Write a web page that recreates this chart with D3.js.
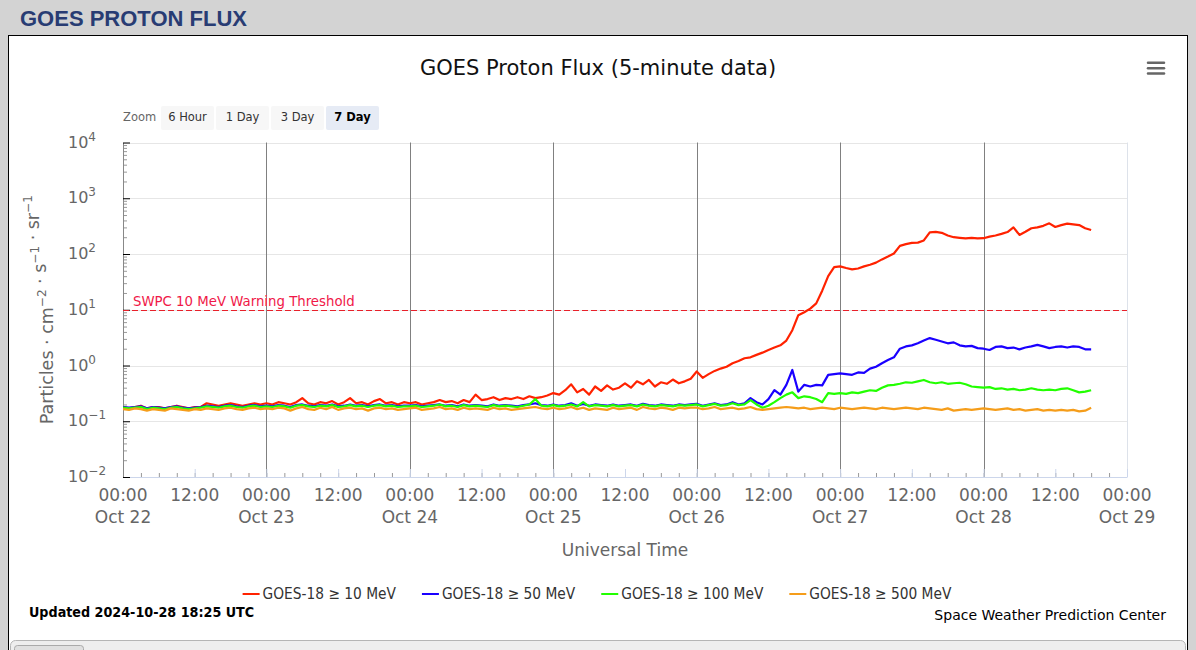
<!DOCTYPE html>
<html>
<head>
<meta charset="utf-8">
<script src="https://cdn.jsdelivr.net/npm/d3@7"></script>
<style>
body { margin: 0; background: #d3d3d3; }
svg { display: block; font-family: "DejaVu Sans", sans-serif; }
</style>
</head>
<body>
<svg id="chart" width="1196" height="650"></svg>
<script>
// DATA: GOES-18 integral proton flux, one reading per hour from Oct 22 00:00 UTC
var startTime = Date.UTC(2024, 9, 22, 0, 0);
var endTime = Date.UTC(2024, 9, 29, 0, 0);
var stepHours = 1;

var flux10 = [
  0.18, 0.17, 0.18, 0.19, 0.17, 0.18, 0.18, 0.17, 0.18, 0.19, 0.18, 0.17,
  0.18, 0.18, 0.21, 0.20, 0.19, 0.20, 0.21, 0.20, 0.19, 0.20, 0.21, 0.20,
  0.21, 0.20, 0.22, 0.21, 0.20, 0.22, 0.26, 0.21, 0.20, 0.22, 0.21, 0.23,
  0.20, 0.22, 0.26, 0.21, 0.22, 0.20, 0.23, 0.25, 0.21, 0.22, 0.20, 0.22,
  0.21, 0.22, 0.20, 0.21, 0.22, 0.24, 0.22, 0.23, 0.21, 0.24, 0.22, 0.30,
  0.24, 0.25, 0.27, 0.24, 0.26, 0.25, 0.27, 0.25, 0.28, 0.26, 0.27, 0.29,
  0.32, 0.30, 0.36, 0.46, 0.33, 0.38, 0.30, 0.42, 0.35, 0.44, 0.37, 0.40,
  0.48, 0.40, 0.52, 0.46, 0.55, 0.42, 0.50, 0.47, 0.56, 0.48, 0.52, 0.58,
  0.78, 0.60, 0.70, 0.80, 0.88, 0.95, 1.10, 1.20, 1.35, 1.40, 1.55, 1.70,
  1.90, 2.10, 2.30, 2.80, 4.30, 8.0, 9.0, 10.5, 13.0, 22.0, 40.0, 58.0,
  60, 56, 53, 55, 60, 64, 70, 80, 90, 102, 140, 150,
  158, 160, 175, 245, 250, 240, 215, 200, 195, 190, 195, 190,
  192, 205, 215, 230, 248, 300, 220, 250, 290, 300, 320, 355,
  305, 330, 350, 340, 330, 290, 270
];
var flux50 = [
  0.18, 0.175, 0.18, 0.185, 0.17, 0.18, 0.175, 0.17, 0.18, 0.185, 0.175, 0.17,
  0.175, 0.18, 0.19, 0.185, 0.18, 0.19, 0.195, 0.185, 0.18, 0.19, 0.195, 0.185,
  0.19, 0.185, 0.195, 0.19, 0.18, 0.195, 0.2, 0.19, 0.185, 0.195, 0.19, 0.2,
  0.185, 0.19, 0.2, 0.19, 0.195, 0.185, 0.195, 0.2, 0.19, 0.195, 0.185, 0.19,
  0.19, 0.195, 0.185, 0.19, 0.195, 0.2, 0.19, 0.195, 0.185, 0.2, 0.19, 0.195,
  0.19, 0.185, 0.2, 0.19, 0.195, 0.19, 0.185, 0.195, 0.2, 0.21, 0.195, 0.19,
  0.2, 0.19, 0.195, 0.21, 0.19, 0.205, 0.19, 0.2, 0.195, 0.19, 0.2, 0.19,
  0.195, 0.2, 0.19, 0.205, 0.195, 0.19, 0.2, 0.195, 0.19, 0.2, 0.195, 0.2,
  0.205, 0.19, 0.2, 0.21, 0.195, 0.2, 0.22, 0.2, 0.21, 0.26, 0.22, 0.2,
  0.25, 0.36, 0.30, 0.45, 0.83, 0.34, 0.45, 0.42, 0.45, 0.44, 0.68, 0.70,
  0.72, 0.70, 0.68, 0.75, 0.74, 0.88, 0.95, 1.1, 1.25, 1.4, 2.0, 2.2,
  2.3, 2.5, 2.8, 3.1, 2.9, 2.7, 2.5, 2.6, 2.3, 2.2, 2.25, 2.05,
  2.0, 1.9, 2.15, 2.2, 2.05, 2.1, 1.95, 2.1, 2.2, 2.35, 2.2, 2.05,
  2.15, 2.2, 2.1, 2.2, 2.15, 1.95, 1.95
];
var flux100 = [
  0.175, 0.17, 0.175, 0.18, 0.165, 0.175, 0.17, 0.165, 0.175, 0.18, 0.17, 0.165,
  0.17, 0.175, 0.185, 0.18, 0.175, 0.185, 0.19, 0.18, 0.175, 0.185, 0.19, 0.18,
  0.185, 0.18, 0.19, 0.185, 0.175, 0.19, 0.195, 0.185, 0.18, 0.19, 0.185, 0.195,
  0.18, 0.185, 0.195, 0.185, 0.19, 0.18, 0.19, 0.195, 0.185, 0.19, 0.18, 0.185,
  0.185, 0.19, 0.18, 0.185, 0.19, 0.2, 0.185, 0.19, 0.18, 0.195, 0.185, 0.19,
  0.185, 0.18, 0.195, 0.185, 0.19, 0.185, 0.18, 0.19, 0.2, 0.25, 0.19, 0.185,
  0.195, 0.185, 0.19, 0.2, 0.185, 0.22, 0.185, 0.195, 0.19, 0.185, 0.195, 0.185,
  0.19, 0.195, 0.185, 0.2, 0.19, 0.185, 0.195, 0.19, 0.185, 0.195, 0.19, 0.195,
  0.2, 0.185, 0.195, 0.205, 0.19, 0.195, 0.21, 0.195, 0.2, 0.24, 0.2, 0.175,
  0.19, 0.22, 0.26, 0.30, 0.33, 0.26, 0.28, 0.27, 0.25, 0.22, 0.32, 0.31,
  0.32, 0.31, 0.33, 0.32, 0.34, 0.36, 0.35, 0.40, 0.44, 0.45, 0.47, 0.50,
  0.49, 0.52, 0.55, 0.50, 0.48, 0.50, 0.47, 0.48, 0.49, 0.46, 0.42, 0.41,
  0.40, 0.41, 0.38, 0.39, 0.37, 0.38, 0.36, 0.37, 0.39, 0.37, 0.36, 0.37,
  0.36, 0.38, 0.39, 0.36, 0.33, 0.34, 0.36
];
var flux500 = [
  0.165, 0.16, 0.17, 0.165, 0.155, 0.165, 0.16, 0.155, 0.17, 0.165, 0.16, 0.155,
  0.165, 0.16, 0.17, 0.165, 0.16, 0.17, 0.175, 0.165, 0.16, 0.17, 0.175, 0.165,
  0.17, 0.165, 0.175, 0.17, 0.155, 0.17, 0.18, 0.165, 0.16, 0.175, 0.165, 0.18,
  0.16, 0.17, 0.175, 0.165, 0.17, 0.155, 0.17, 0.175, 0.165, 0.17, 0.16, 0.165,
  0.17, 0.175, 0.16, 0.165, 0.17, 0.18, 0.165, 0.17, 0.16, 0.175, 0.165, 0.17,
  0.165, 0.16, 0.175, 0.165, 0.17, 0.16, 0.165, 0.17, 0.175, 0.18, 0.17, 0.165,
  0.175, 0.165, 0.17, 0.18, 0.165, 0.175, 0.16, 0.17, 0.165, 0.16, 0.175, 0.165,
  0.17, 0.175, 0.16, 0.18, 0.17, 0.165, 0.175, 0.17, 0.16, 0.175, 0.17, 0.175,
  0.175, 0.165, 0.17, 0.18, 0.165, 0.17, 0.175, 0.165, 0.17, 0.18, 0.165, 0.16,
  0.165, 0.17, 0.175, 0.18, 0.175, 0.17, 0.175, 0.165, 0.17, 0.175, 0.17, 0.165,
  0.175, 0.17, 0.165, 0.17, 0.175, 0.17, 0.165, 0.175, 0.17, 0.165, 0.17, 0.175,
  0.17, 0.165, 0.175, 0.17, 0.165, 0.16, 0.17, 0.155, 0.16, 0.165, 0.16, 0.165,
  0.17, 0.165, 0.16, 0.165, 0.17, 0.16, 0.165, 0.155, 0.16, 0.165, 0.155, 0.16,
  0.155, 0.16, 0.155, 0.16, 0.15, 0.155, 0.175
];

var seriesNames = ['GOES-18 \u2265 10 MeV', 'GOES-18 \u2265 50 MeV', 'GOES-18 \u2265 100 MeV', 'GOES-18 \u2265 500 MeV'];
var seriesValues = [flux10, flux50, flux100, flux500];
var yTickExponents = [-2, -1, 0, 1, 2, 3, 4];
var zoomLabels = ['6 Hour', '1 Day', '3 Day', '7 Day'];
var thresholdValue = 10;
var thresholdLabel = 'SWPC 10 MeV Warning Threshold';
var chartTitle = 'GOES Proton Flux (5-minute data)';
var updatedText = 'Updated 2024-10-28 18:25 UTC';
var creditText = 'Space Weather Prediction Center';

// STYLE
var seriesColors = ['#ff2200', '#1a00ff', '#22ff00', '#f59d1a'];

var svg = d3.select('#chart');
var plotL = 123, plotR = 1127, plotT = 142.5, plotB = 477;

// PAGE HEADER AND PANEL
svg.append('text')
    .attr('x', 20)
    .attr('y', 26)
    .style('font-family', '"Liberation Sans", Arial, sans-serif')
    .style('font-weight', 'bold')
    .style('font-size', '22px')
    .style('fill', '#283c73')
    .text('GOES PROTON FLUX');

svg.append('rect')
    .attr('x', 8.5).attr('y', 35.5)
    .attr('width', 1179).attr('height', 640)
    .style('fill', '#fff')
    .style('stroke', '#000');
svg.append('rect')
    .attr('x', 10.5).attr('y', 640.5)
    .attr('width', 1175).attr('height', 30).attr('rx', 5)
    .style('fill', '#eeeeee')
    .style('stroke', '#b5b5b5');
svg.append('rect')
    .attr('x', 14.5).attr('y', 645.5)
    .attr('width', 69).attr('height', 20).attr('rx', 3)
    .style('fill', '#e0e0e0')
    .style('stroke', '#aaaaaa');

// SCALES
var x = d3.scaleUtc()
    .domain([new Date(startTime), new Date(endTime)])
    .range([plotL, plotR]);
var y = d3.scaleLog()
    .domain([1e-2, 1e4])
    .range([plotB, plotT]);

var decades = yTickExponents.map(function(e) { return Math.pow(10, e); });
var minorVals = [];
decades.slice(0, -1).forEach(function(d) {
    for (var k = 2; k <= 9; k++) minorVals.push(d * k);
});

// GRID
svg.append('g').selectAll('line')
    .data(decades.slice(1))
    .enter().append('line')
    .attr('x1', plotL).attr('x2', plotR)
    .attr('y1', function(d) { return Math.round(y(d)) + 0.5; })
    .attr('y2', function(d) { return Math.round(y(d)) + 0.5; })
    .style('stroke', '#e6e6e6');

svg.append('line')
    .attr('x1', plotR + 0.5).attr('x2', plotR + 0.5)
    .attr('y1', plotT).attr('y2', plotB)
    .style('stroke', '#dde2ea');

var dayLines = d3.utcDay.range(new Date(startTime + 864e5), new Date(endTime));
svg.append('g').selectAll('line')
    .data(dayLines)
    .enter().append('line')
    .attr('x1', function(d) { return Math.round(x(d)) + 0.5; })
    .attr('x2', function(d) { return Math.round(x(d)) + 0.5; })
    .attr('y1', plotT).attr('y2', plotB)
    .style('stroke', '#808080');

// X AXIS
var xMinorAxis = svg.append('g')
    .attr('transform', 'translate(0,' + plotB + ')')
    .call(d3.axisBottom(x).ticks(d3.utcHour.every(3)).tickSize(-4).tickSizeOuter(0).tickFormat(''));
xMinorAxis.select('.domain').remove();
xMinorAxis.selectAll('line').style('stroke', '#999');

var xMajorAxis = svg.append('g')
    .attr('transform', 'translate(0,' + plotB + ')')
    .call(d3.axisBottom(x).ticks(d3.utcHour.every(12)).tickSize(-8).tickSizeOuter(0).tickFormat(''));
xMajorAxis.select('.domain').style('stroke', '#ccd6eb');
xMajorAxis.selectAll('line').style('stroke', '#ccd6eb');

var fmtHour = d3.utcFormat('%H:%M');
var fmtDay = d3.utcFormat('%b %-d');
var xTicks = d3.utcHour.every(12).range(new Date(startTime), new Date(endTime + 1));
var xLabels = svg.append('g')
    .style('font-size', '17px')
    .style('fill', '#666')
    .attr('text-anchor', 'middle');
xTicks.forEach(function(t) {
    var tx = x(t);
    xLabels.append('text').attr('x', tx).attr('y', 501).text(fmtHour(t));
    if (t.getUTCHours() === 0) {
        xLabels.append('text').attr('x', tx).attr('y', 523).text(fmtDay(t));
    }
});
svg.append('text')
    .attr('x', (plotL + plotR) / 2)
    .attr('y', 556)
    .attr('text-anchor', 'middle')
    .style('font-size', '17px')
    .style('fill', '#666')
    .text('Universal Time');

// Y AXIS
var yMinorAxis = svg.append('g')
    .attr('transform', 'translate(' + plotL + ',0)')
    .call(d3.axisLeft(y).tickValues(minorVals).tickSize(-4).tickSizeOuter(0).tickFormat(''));
yMinorAxis.select('.domain').remove();
yMinorAxis.selectAll('line').style('stroke', '#999');

var yMajorAxis = svg.append('g')
    .attr('transform', 'translate(' + plotL + ',0)')
    .call(d3.axisLeft(y).tickValues(decades).tickSize(-7).tickSizeOuter(0).tickFormat(''));
yMajorAxis.select('.domain').style('stroke', '#888');
yMajorAxis.selectAll('line').style('stroke', '#000');

var yLabels = svg.append('g').style('fill', '#666');
yTickExponents.forEach(function(e) {
    var t = yLabels.append('text')
        .attr('x', 68)
        .attr('y', y(Math.pow(10, e)) + 5)
        .style('font-size', '16px');
    t.append('tspan').text('10');
    t.append('tspan')
        .attr('dy', -7)
        .style('font-size', '12px')
        .text(e < 0 ? '\u2212' + (-e) : String(e));
});

var yTitle = svg.append('text')
    .attr('transform', 'translate(53,' + ((plotT + plotB) / 2) + ') rotate(-90)')
    .attr('text-anchor', 'middle')
    .style('font-size', '17.5px')
    .style('fill', '#666');
[['Particles \u00b7 cm', '\u22122'], [' \u00b7 s', '\u22121'], [' \u00b7 sr', '\u22121']].forEach(function(p) {
    yTitle.append('tspan').attr('dy', 0).text(p[0]);
    yTitle.append('tspan').attr('dy', -7).style('font-size', '12px').text(p[1]);
    yTitle.append('tspan').attr('dy', 7).text('');
});

// THRESHOLD
svg.append('line')
    .attr('x1', plotL).attr('x2', plotR)
    .attr('y1', Math.round(y(thresholdValue)) + 0.5)
    .attr('y2', Math.round(y(thresholdValue)) + 0.5)
    .style('stroke', '#e8202a')
    .style('stroke-dasharray', '6,3');
svg.append('text')
    .attr('x', 133)
    .attr('y', y(thresholdValue) - 4)
    .style('font-size', '13.3px')
    .style('fill', '#f01848')
    .text(thresholdLabel);

// DATA LINES
svg.append('clipPath').attr('id', 'plotClip')
    .append('rect')
    .attr('x', plotL).attr('y', plotT)
    .attr('width', plotR - plotL).attr('height', plotB - plotT);

var lineGen = d3.line()
    .x(function(d, i) { return x(new Date(startTime + i * stepHours * 36e5)); })
    .y(function(d) { return y(d); });

svg.append('g')
    .attr('clip-path', 'url(#plotClip)')
    .selectAll('path')
    .data(seriesValues)
    .enter().append('path')
    .attr('d', function(d) { return lineGen(d); })
    .style('fill', 'none')
    .style('stroke', function(d, i) { return seriesColors[i]; })
    .style('stroke-width', '2.2px')
    .style('stroke-linejoin', 'round');

// TITLE, ZOOM BUTTONS, MENU
svg.append('text')
    .attr('x', 598)
    .attr('y', 75)
    .attr('text-anchor', 'middle')
    .style('font-size', '21px')
    .style('fill', '#111')
    .text(chartTitle);

svg.append('text')
    .attr('x', 123)
    .attr('y', 121)
    .style('font-size', '11.5px')
    .style('fill', '#666')
    .text('Zoom');

var btn = svg.append('g').selectAll('g')
    .data(zoomLabels)
    .enter().append('g')
    .attr('transform', function(d, i) { return 'translate(' + (161 + i * 55) + ',106)'; });
btn.append('rect')
    .attr('width', 53).attr('height', 24).attr('rx', 2)
    .style('fill', function(d, i) { return i === zoomLabels.length - 1 ? '#e6ebf5' : '#f7f7f7'; });
btn.append('text')
    .attr('x', 26.5).attr('y', 15)
    .attr('text-anchor', 'middle')
    .style('font-size', '11.5px')
    .style('font-weight', function(d, i) { return i === zoomLabels.length - 1 ? 'bold' : 'normal'; })
    .style('fill', function(d, i) { return i === zoomLabels.length - 1 ? '#000' : '#333'; })
    .text(function(d) { return d; });

svg.append('g').selectAll('line')
    .data([62.8, 68.2, 73.6])
    .enter().append('line')
    .attr('x1', 1148).attr('x2', 1164)
    .attr('y1', function(d) { return d; }).attr('y2', function(d) { return d; })
    .style('stroke', '#666')
    .style('stroke-width', 2.5)
    .style('stroke-linecap', 'round');

// LEGEND
var legendGap = 26;
var legend = svg.append('g');
var items = legend.selectAll('g')
    .data(seriesNames)
    .enter().append('g');
items.append('line')
    .attr('x1', 0).attr('x2', 17)
    .attr('y1', 594).attr('y2', 594)
    .style('stroke', function(d, i) { return seriesColors[i]; })
    .style('stroke-width', 2);
items.append('text')
    .attr('x', 20).attr('y', 599)
    .style('font-family', '"DejaVu Sans Condensed", "DejaVu Sans", sans-serif')
    .style('font-size', '15.3px')
    .style('fill', '#333')
    .text(function(d) { return d; });
var offs = [], cur = 0;
items.each(function() {
    offs.push(cur);
    cur += 20 + d3.select(this).select('text').node().getComputedTextLength() + legendGap;
});
var legendStart = 597 - (cur - legendGap) / 2;
items.attr('transform', function(d, i) { return 'translate(' + (legendStart + offs[i]) + ',0)'; });

// FOOTER
svg.append('text')
    .attr('x', 29)
    .attr('y', 617)
    .style('font-family', '"DejaVu Sans Condensed", "DejaVu Sans", sans-serif')
    .style('font-weight', 'bold')
    .style('font-size', '14.2px')
    .style('fill', '#000')
    .text(updatedText);
svg.append('text')
    .attr('x', 1166)
    .attr('y', 620)
    .attr('text-anchor', 'end')
    .style('font-size', '14px')
    .style('fill', '#000')
    .text(creditText);
</script>
</body>
</html>
